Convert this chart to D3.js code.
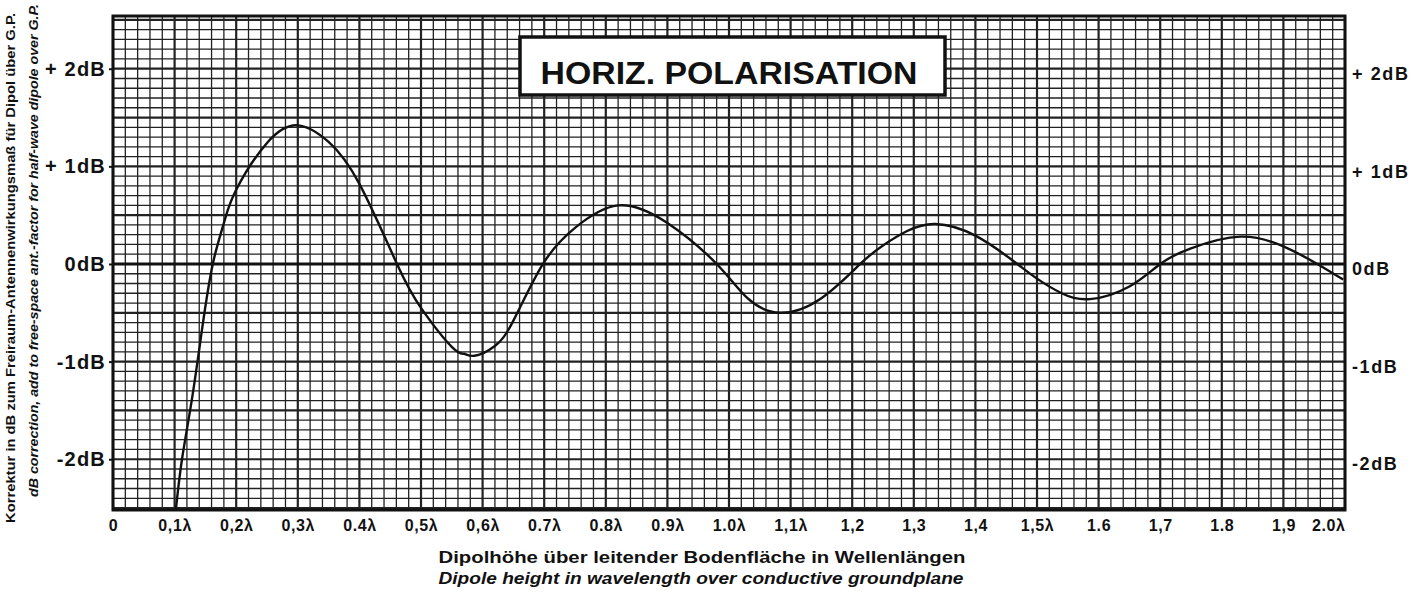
<!DOCTYPE html>
<html>
<head>
<meta charset="utf-8">
<script src="https://cdn.jsdelivr.net/npm/d3@7"></script>
<style>
  html, body { margin: 0; padding: 0; background: #fff; }
  svg { display: block; }
  text { font-family: "Liberation Sans", Arial, sans-serif; fill: #111; }
</style>
</head>
<body>
<svg id="chart" width="1422" height="599"></svg>
<script>
// ---- data ----
const heights = [0.102, 0.112, 0.128, 0.145, 0.162, 0.18, 0.20, 0.25, 0.30, 0.35, 0.40, 0.461,
                 0.50, 0.55, 0.57, 0.587, 0.62, 0.65, 0.698, 0.75, 0.82, 0.90, 0.98, 1.03, 1.083, 1.15,
                 1.213, 1.25, 1.29, 1.335, 1.40, 1.468, 1.50, 1.54, 1.586, 1.65, 1.70, 1.75,
                 1.83, 1.90, 1.955, 1.997];
const correctionDb = [-2.52, -2.0, -1.39, -0.65, 0.0, 0.42, 0.76, 1.24, 1.42, 1.25, 0.82, 0.0,
                      -0.45, -0.85, -0.92, -0.94, -0.84, -0.58, 0.0, 0.37, 0.60, 0.42, 0.0, -0.35, -0.50, -0.35,
                      0.0, 0.19, 0.34, 0.41, 0.29, 0.0, -0.15, -0.30, -0.36, -0.23, 0.0, 0.16,
                      0.28, 0.18, 0.0, -0.16];

const xTickValues = [0, 0.1, 0.2, 0.3, 0.4, 0.5, 0.6, 0.7, 0.8, 0.9, 1.0, 1.1, 1.2, 1.3, 1.4, 1.5, 1.6, 1.7, 1.8, 1.9, 2.0];
const xTickLabels = ["0", "0,1λ", "0,2λ", "0,3λ", "0.4λ", "0,5λ", "0,6λ", "0.7λ", "0.8λ", "0.9λ", "1.0λ",
                     "1,1λ", "1,2", "1,3", "1,4", "1,5λ", "1.6", "1,7", "1.8", "1,9", "2.0λ"];
const yTickValues = [2, 1, 0, -1, -2];
const yTickLabelsLeft = ["+ 2dB", "+ 1dB", "0dB", "-1dB", "-2dB"];
const yTickLabelsRight = ["+ 2dB", "+ 1dB", "0dB", "-1dB", "-2dB"];

const titleText = "HORIZ. POLARISATION";
const xTitleDe = "Dipolhöhe über leitender Bodenfläche in Wellenlängen";
const xTitleEn = "Dipole height in wavelength over conductive groundplane";
const yTitleDe = "Korrektur in dB zum Freiraum-Antennenwirkungsmaß für Dipol über G.P.";
const yTitleEn = "dB correction, add to free-space ant.-factor for half-wave dipole over G.P.";

// ---- layout ----
const L = 113, T = 16, R = 1345, B = 510;
const svg = d3.select("#chart");
const x = d3.scaleLinear().domain([0, 2.0]).range([L, R]);
const y = d3.scaleLinear().domain([-2.52, 2.54]).range([B, T]);

svg.append("rect").attr("width", 1422).attr("height", 599).attr("fill", "#fff");

// ---- graph-paper grid ----
const grid = svg.append("g");
const minorX = d3.range(0, 2.0001, 0.02);
const minorY = d3.range(-2.5, 2.5001, 0.1);
grid.selectAll("line.vx").data(minorX).join("line")
  .attr("x1", d => x(d)).attr("x2", d => x(d)).attr("y1", T).attr("y2", B)
  .attr("stroke", "#222")
  .attr("stroke-width", d => (Math.abs(d * 10 - Math.round(d * 10)) < 1e-6) ? 2.2 : 1.3);
grid.selectAll("line.hy").data(minorY).join("line")
  .attr("y1", d => y(d)).attr("y2", d => y(d)).attr("x1", L).attr("x2", R)
  .attr("stroke", "#222")
  .attr("stroke-width", d => (Math.abs(d * 2 - Math.round(d * 2)) < 1e-6) ? 2.2 : 1.3);
grid.append("line").attr("x1", L).attr("x2", R).attr("y1", y(0)).attr("y2", y(0))
  .attr("stroke", "#111").attr("stroke-width", 3);

// ---- curve ----
svg.append("clipPath").attr("id", "clip").append("rect")
  .attr("x", L).attr("y", T).attr("width", R - L).attr("height", B - T);
const pts = heights.map((h, i) => [h, correctionDb[i]]);
svg.append("path")
  .attr("clip-path", "url(#clip)")
  .attr("d", d3.line().x(d => x(d[0])).y(d => y(d[1])).curve(d3.curveNatural)(pts))
  .attr("fill", "none").attr("stroke", "#111").attr("stroke-width", 2.4);

// ---- frame ----
svg.append("rect").attr("x", L).attr("y", T).attr("width", R - L).attr("height", B - T)
  .attr("fill", "none").attr("stroke", "#111").attr("stroke-width", 3);

// ---- title box ----
const tb = svg.append("g");
tb.append("rect").attr("x", 520).attr("y", 37).attr("width", 425).attr("height", 58)
  .attr("fill", "#fff").attr("stroke", "#111").attr("stroke-width", 3.5);
tb.append("text").attr("x", 729).attr("y", 84).attr("text-anchor", "middle")
  .attr("font-size", 31).attr("font-weight", "bold")
  .attr("textLength", 377).attr("lengthAdjust", "spacingAndGlyphs")
  .text(titleText);

// ---- y labels ----
const yAxisL = d3.axisLeft(y).tickValues(yTickValues).tickSize(4).tickPadding(3)
  .tickFormat((d, i) => yTickLabelsLeft[i]);
const gL = svg.append("g").attr("transform", `translate(${L},0)`).call(yAxisL);
gL.select(".domain").remove();
gL.selectAll("line").attr("stroke", "#111").attr("stroke-width", 2);
gL.selectAll("text").attr("font-size", 20).attr("font-weight", "bold")
  .attr("letter-spacing", 1.2)
  .attr("font-family", "Liberation Sans, Arial, sans-serif").attr("fill", "#111");

const yAxisR = d3.axisRight(y).tickValues(yTickValues).tickSize(0).tickPadding(7)
  .tickFormat((d, i) => yTickLabelsRight[i]);
const gR = svg.append("g").attr("transform", `translate(${R},5)`).call(yAxisR);
gR.select(".domain").remove();
gR.selectAll("text").attr("font-size", 18).attr("font-weight", "bold")
  .attr("letter-spacing", 1.6)
  .attr("font-family", "Liberation Sans, Arial, sans-serif").attr("fill", "#111");

// ---- x labels ----
const xAxis = d3.axisBottom(x).tickValues(xTickValues).tickSize(0).tickPadding(10)
  .tickFormat((d, i) => xTickLabels[i]);
const gX = svg.append("g").attr("transform", `translate(0,${B})`).call(xAxis);
gX.select(".domain").remove();
gX.selectAll("text").attr("font-size", 16).attr("font-weight", "bold")
  .attr("letter-spacing", 0.6)
  .attr("font-family", "Liberation Sans, Arial, sans-serif").attr("fill", "#111")
  .attr("text-anchor", (d, i) => i === xTickValues.length - 1 ? "end" : "middle");

// ---- axis titles ----
svg.append("text").attr("x", 702).attr("y", 563).attr("text-anchor", "middle")
  .attr("font-size", 17).attr("font-weight", "bold")
  .attr("textLength", 527).attr("lengthAdjust", "spacingAndGlyphs").text(xTitleDe);
svg.append("text").attr("x", 701).attr("y", 584).attr("text-anchor", "middle")
  .attr("font-size", 17).attr("font-weight", "bold").attr("font-style", "italic")
  .attr("textLength", 525).attr("lengthAdjust", "spacingAndGlyphs").text(xTitleEn);

svg.append("text").attr("transform", "translate(15,523) rotate(-90)")
  .attr("font-size", 12).attr("font-weight", "bold")
  .attr("textLength", 510).attr("lengthAdjust", "spacingAndGlyphs").text(yTitleDe);
svg.append("text").attr("transform", "translate(38,497) rotate(-90)")
  .attr("font-size", 12).attr("font-weight", "bold").attr("font-style", "italic")
  .attr("textLength", 493).attr("lengthAdjust", "spacingAndGlyphs").text(yTitleEn);
</script>
</body>
</html>
